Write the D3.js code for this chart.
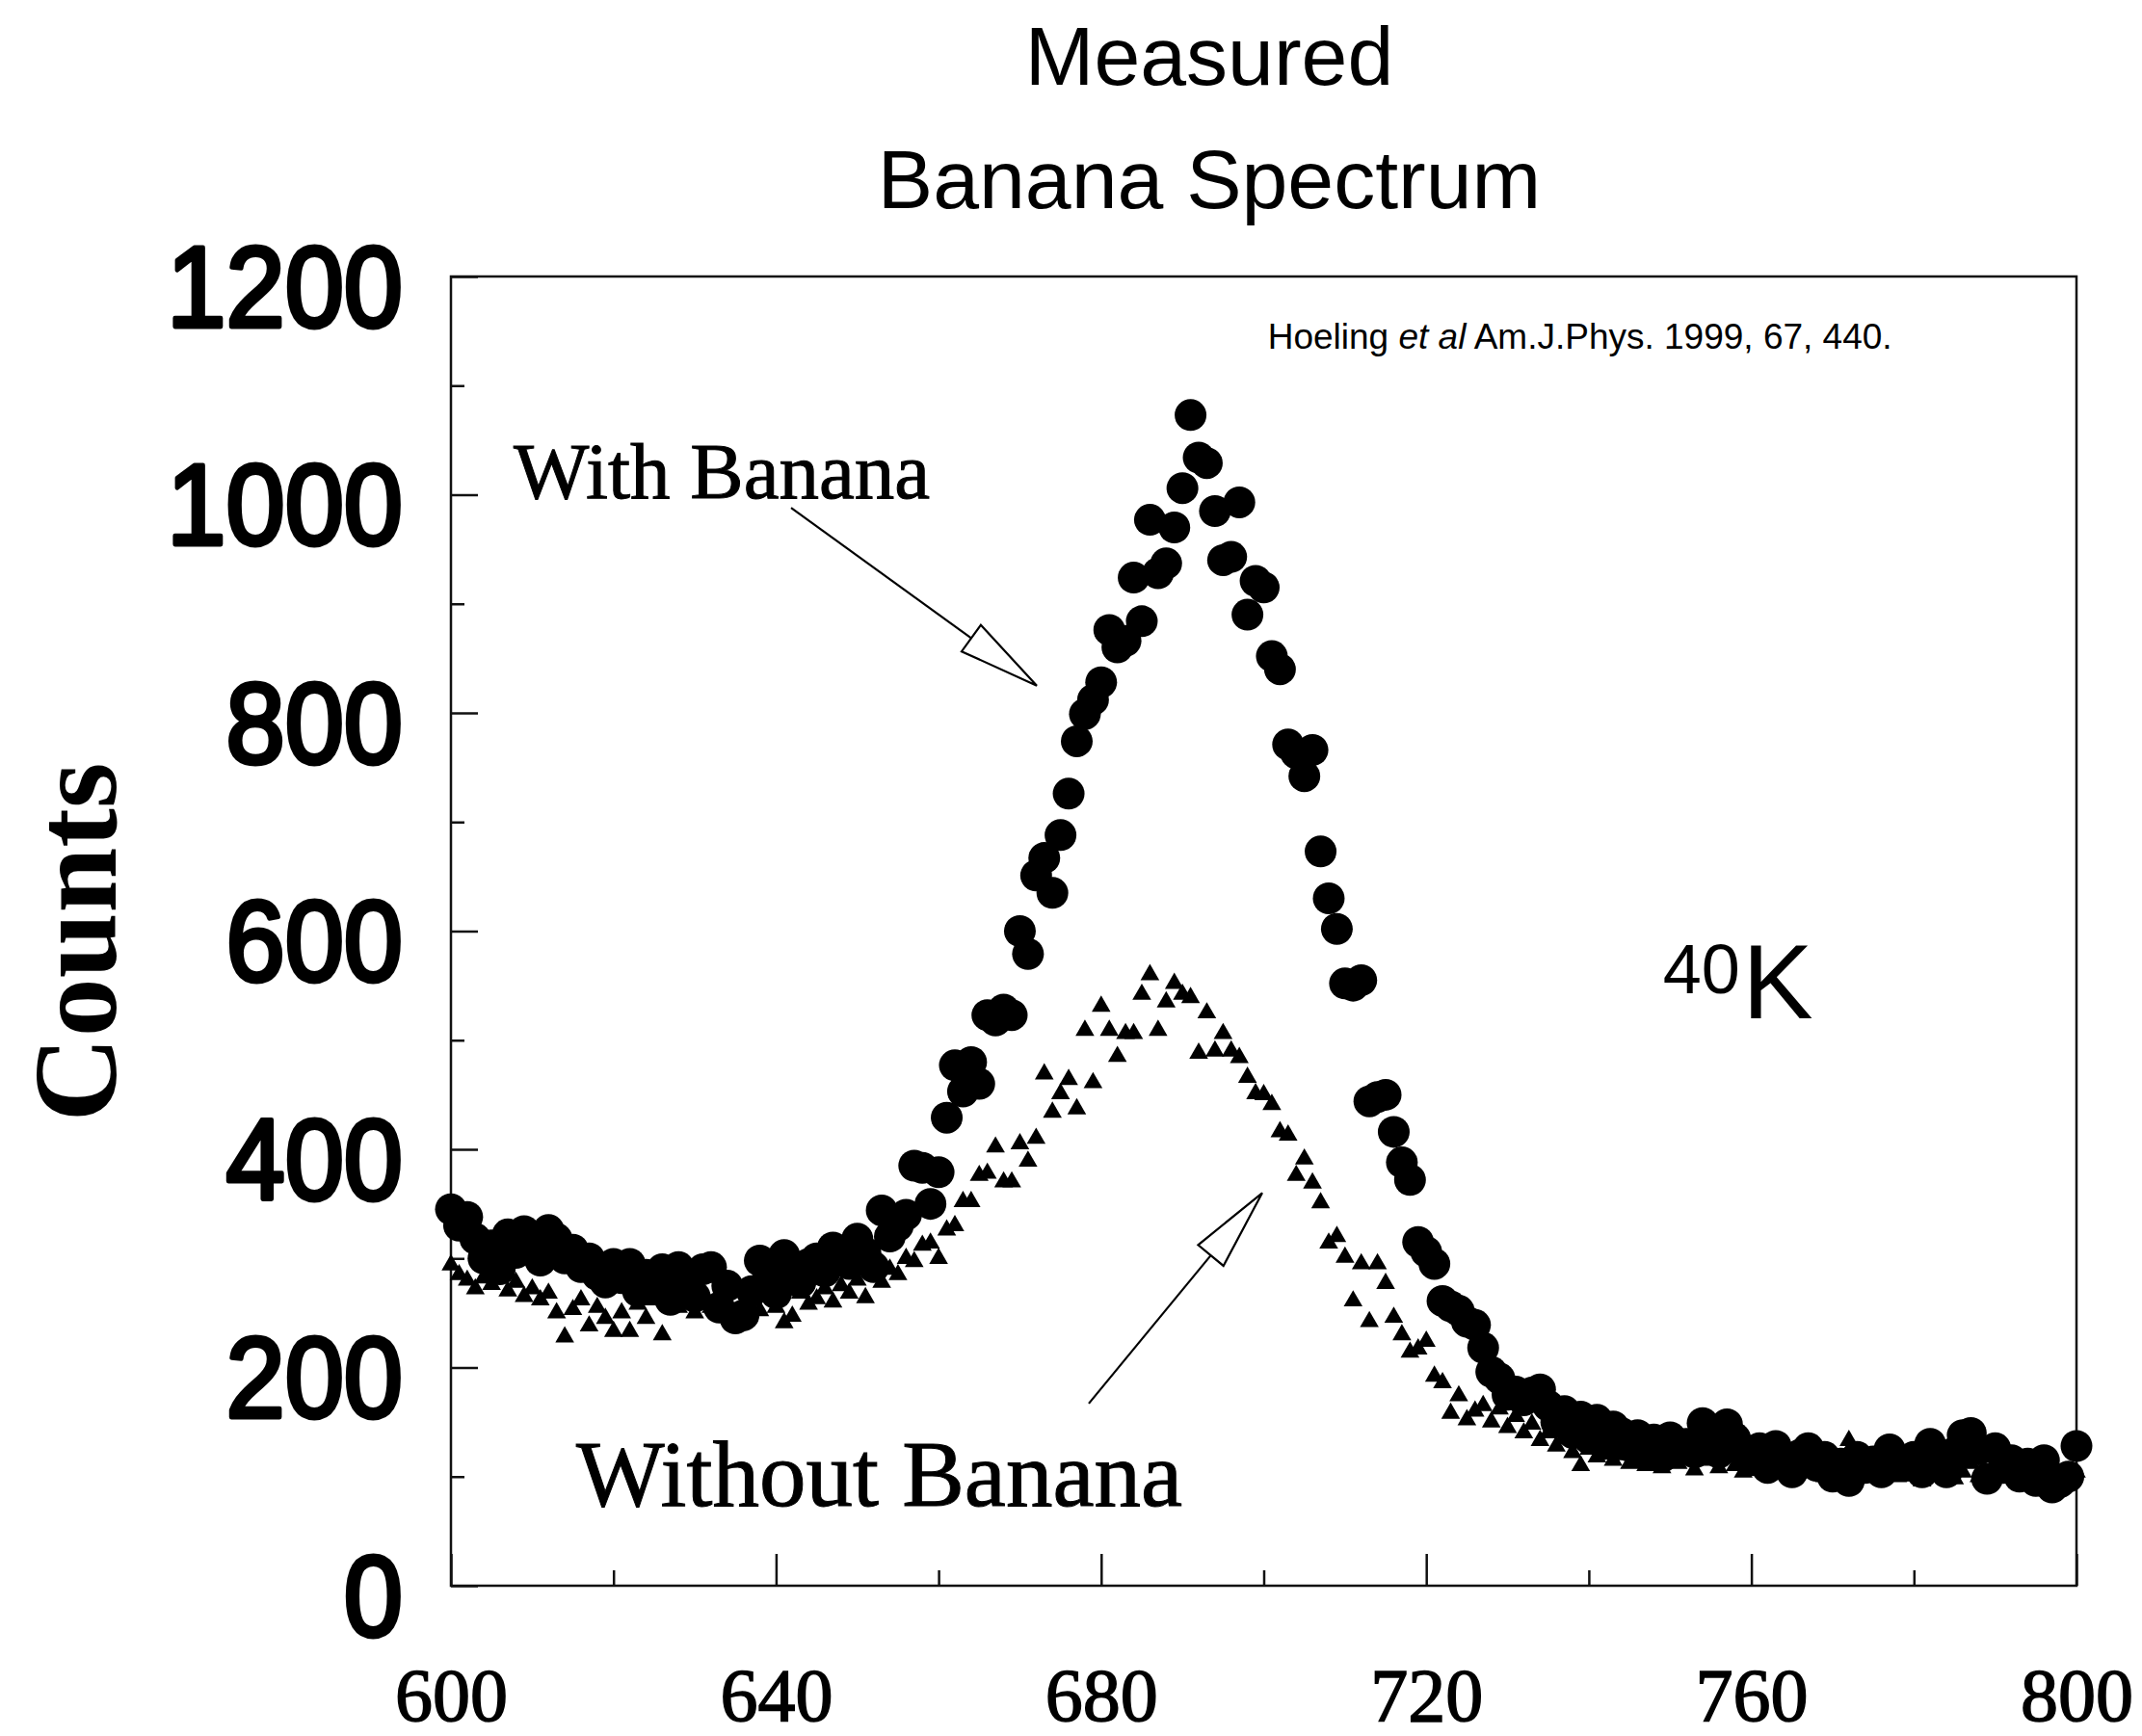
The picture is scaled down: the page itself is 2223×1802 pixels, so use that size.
<!DOCTYPE html>
<html>
<head>
<meta charset="utf-8">
<script src="https://cdn.jsdelivr.net/npm/d3@7/dist/d3.min.js"></script>
<style>
  body { margin: 0; background: #fff; }
  svg { display: block; }
</style>
</head>
<body>
<svg id="chart" width="2223" height="1802"></svg>
<script>
// Channel numbers run 600..800, one count per channel
const channelStart = 600;

// Counts measured with the banana on the detector
const withBanana = [
  345, 330, 338, 318, 300, 312, 290, 322, 305, 325,
  315, 298, 326, 318, 300, 308, 292, 300, 285, 278,
  295, 282, 295, 270, 285, 275, 290, 262, 292, 278,
  265, 290, 292, 255, 275, 245, 248, 270, 298, 282,
  268, 303, 290, 278, 295, 300, 288, 310, 302, 295,
  318, 305, 292, 344, 320, 330, 340, 385, 383, 350,
  379, 429, 477, 453, 480, 460, 523, 518, 528, 523,
  600, 579, 651, 667, 635, 688, 726, 774, 799, 812,
  828, 876, 860, 866, 924, 884, 977, 928, 937, 970,
  1006, 1073, 1034, 1029, 985, 940, 943, 993, 890, 921,
  915, 852, 840, 771, 763, 742, 766, 673, 630, 602,
  552, 550, 555, 444, 448, 450, 416, 388, 372, 315,
  306, 295, 261, 256, 252, 242, 239, 218, 196, 190,
  175, 178, 170, 177, 180, 165, 150, 160, 140, 155,
  135, 152, 130, 146, 140, 128, 138, 120, 134, 118,
  136, 125, 130, 122, 149, 128, 122, 148, 135, 125,
  115, 126, 108, 128, 112, 104, 120, 126, 110, 118,
  100, 112, 96, 118, 108, 114, 104, 125, 112, 110,
  118, 104, 130, 112, 104, 122, 138, 140, 125, 98,
  126, 108, 115, 100, 112, 96, 115, 90, 95, 100,
  128
];

// Background counts, no banana
const withoutBanana = [
  294, 285, 280, 272, 282, 276, 285, 270, 278, 265,
  272, 262, 268, 250, 228, 253, 262, 238, 255, 245,
  233, 250, 233, 258, 245, 262, 230, 270, 255, 262,
  250, 268, 255, 262, 248, 270, 258, 265, 252, 268,
  255, 241, 247, 268, 258, 263, 272, 260, 275, 268,
  280, 264, 285, 278, 290, 285, 300, 297, 312, 314,
  300, 326, 330, 352, 352, 376, 378, 402, 370, 370,
  405, 389, 410, 469, 434, 451, 464, 437, 509, 461,
  531, 509, 485, 506, 506, 542, 560, 509, 535, 552,
  542, 539, 488, 525, 490, 506, 490, 484, 466, 451,
  450, 441, 416, 413, 376, 391, 369, 351, 314, 320,
  301, 261, 295, 242, 295, 277, 246, 230, 214, 217,
  224, 192, 186, 158, 174, 152, 160, 165, 150, 162,
  145, 155, 140, 148, 133, 140, 128, 135, 122, 110,
  125, 118, 128, 115, 120, 112, 124, 110, 118, 108,
  120, 112, 118, 106, 115, 120, 108, 118, 110, 104,
  115, 108, 120, 102, 112, 106, 115, 104, 110, 100,
  112, 106, 133, 104, 110, 100, 112, 106, 100, 110,
  104, 96, 108, 102, 110, 98, 104, 112, 100, 95,
  106, 100, 108, 96, 102, 94, 105, 98, 92, 100,
  104
];

const xTicks = [600, 640, 680, 720, 760, 800];
const xMinorTicks = [620, 660, 700, 740, 780];
const yTicks = [0, 200, 400, 600, 800, 1000, 1200];
const yMinorTicks = [100, 300, 500, 700, 900, 1100];

const titleLines = ["Measured", "Banana Spectrum"];
const yTitle = "Counts";

// Annotation anchors, given in data units (channel, counts)
const labelWith = { text: "With Banana", at: [607.7, 997] };
const labelWithout = { text: "Without Banana", at: [615.4, 73] };
const arrowWith = { from: [641.85, 988], to: [672.08, 825] };
const arrowWithout = { from: [678.48, 167], to: [699.82, 360] };
const citeAt = [700.5, 1134];
const isotopeAt = { mass: [749.1, 543], symbol: [758.9, 520] };

// ---------------------------------------------------------------
const svg = d3.select("#chart");
const plotLeft = 468, plotRight = 2155, plotTop = 287, plotBottom = 1646;

const x = d3.scaleLinear().domain([600, 800]).range([plotLeft, plotRight]);
const y = d3.scaleLinear().domain([0, 1200]).range([plotBottom, plotTop]);

const ink = "#111";
const sans = "'Liberation Sans', Arial, sans-serif";
const serif = "'Liberation Serif', 'Times New Roman', serif";

// Title
svg.append("g")
  .selectAll("text")
  .data(titleLines)
  .join("text")
  .attr("x", 1255)
  .attr("y", (d, i) => 88 + i * 128)
  .attr("text-anchor", "middle")
  .attr("font-family", sans)
  .attr("font-size", 86)
  .attr("fill", "#000")
  .text(d => d);

// Frame
svg.append("rect")
  .attr("x", plotLeft).attr("y", plotTop)
  .attr("width", plotRight - plotLeft).attr("height", plotBottom - plotTop)
  .attr("fill", "none")
  .attr("stroke", ink)
  .attr("stroke-width", 2.5);

// Y axis: inward ticks, labels on the major ones
const yAxis = svg.append("g")
  .attr("transform", `translate(${plotLeft},0)`)
  .call(d3.axisLeft(y).tickValues(yTicks).tickSize(-28).tickPadding(50).tickFormat(d3.format("d")));
yAxis.select(".domain").remove();
yAxis.selectAll("line").attr("stroke", ink).attr("stroke-width", 2.5);
yAxis.selectAll("text")
  .attr("font-family", sans)
  .attr("font-size", 110)
  .attr("fill", "#000")
  .attr("stroke", "#000")
  .attr("stroke-width", 4.5)
  .attr("stroke-linejoin", "round")
  .attr("dy", "0.43em")
  .attr("transform", "scale(1,1.08)");

const yMinor = svg.append("g")
  .attr("transform", `translate(${plotLeft},0)`)
  .call(d3.axisLeft(y).tickValues(yMinorTicks).tickSize(-14).tickFormat(""));
yMinor.select(".domain").remove();
yMinor.selectAll("line").attr("stroke", ink).attr("stroke-width", 2.5);

// X axis
const xAxis = svg.append("g")
  .attr("transform", `translate(0,${plotBottom})`)
  .call(d3.axisBottom(x).tickValues(xTicks).tickSize(-33).tickPadding(85).tickFormat(d3.format("d")));
xAxis.select(".domain").remove();
xAxis.selectAll("line").attr("stroke", ink).attr("stroke-width", 2.5);
xAxis.selectAll("text")
  .attr("font-family", serif)
  .attr("font-size", 78)
  .attr("fill", "#000")
  .attr("stroke", "#000")
  .attr("stroke-width", 1.5);

const xMinor = svg.append("g")
  .attr("transform", `translate(0,${plotBottom})`)
  .call(d3.axisBottom(x).tickValues(xMinorTicks).tickSize(-16).tickFormat(""));
xMinor.select(".domain").remove();
xMinor.selectAll("line").attr("stroke", ink).attr("stroke-width", 2.5);

// Y axis title
svg.append("text")
  .attr("transform", "translate(120,978) rotate(-90)")
  .attr("text-anchor", "middle")
  .attr("font-family", serif)
  .attr("font-weight", "bold")
  .attr("font-size", 122)
  .attr("fill", "#000")
  .text(yTitle);

// Data
const toPoints = arr => arr.map((c, i) => ({ ch: channelStart + i, c }));

svg.append("g")
  .selectAll("path")
  .data(toPoints(withoutBanana))
  .join("path")
  .attr("transform", d => `translate(${x(d.ch)},${y(d.c)})`)
  .attr("d", d3.symbol(d3.symbolTriangle, 165))
  .attr("fill", "#000");

svg.append("g")
  .selectAll("circle")
  .data(toPoints(withBanana))
  .join("circle")
  .attr("cx", d => x(d.ch))
  .attr("cy", d => y(d.c))
  .attr("r", 16.5)
  .attr("fill", "#000");

// Annotations
svg.append("text")
  .attr("x", x(labelWith.at[0])).attr("y", y(labelWith.at[1]))
  .attr("font-family", serif).attr("font-size", 83).attr("fill", "#000")
  .attr("stroke", "#000").attr("stroke-width", 1)
  .text(labelWith.text);
svg.append("text")
  .attr("x", x(labelWithout.at[0])).attr("y", y(labelWithout.at[1]))
  .attr("font-family", serif).attr("font-size", 97).attr("fill", "#000")
  .attr("stroke", "#000").attr("stroke-width", 1)
  .text(labelWithout.text);

function drawArrow(a) {
  const x0 = x(a.from[0]), y0 = y(a.from[1]);
  const x1 = x(a.to[0]), y1 = y(a.to[1]);
  const len = Math.hypot(x1 - x0, y1 - y0);
  const ux = (x1 - x0) / len, uy = (y1 - y0) / len;
  const headLen = 84, halfW = 17;
  const bx = x1 - ux * headLen, by = y1 - uy * headLen;
  const g = svg.append("g").attr("fill", "#fff").attr("stroke", "#000").attr("stroke-width", 2.2);
  g.append("line").attr("x1", x0).attr("y1", y0).attr("x2", bx).attr("y2", by);
  g.append("path")
    .attr("stroke-linejoin", "miter")
    .attr("d", `M${x1},${y1}L${bx - uy * halfW},${by + ux * halfW}L${bx + uy * halfW},${by - ux * halfW}Z`);
}
drawArrow(arrowWith);
drawArrow(arrowWithout);

// Source note
const cite = svg.append("text")
  .attr("x", x(citeAt[0])).attr("y", y(citeAt[1]))
  .attr("font-family", sans)
  .attr("font-size", 37).attr("fill", "#000");
cite.append("tspan").text("Hoeling ");
cite.append("tspan").attr("font-style", "italic").text("et al");
cite.append("tspan").text(" Am.J.Phys. 1999, 67, 440.");

// Isotope label
svg.append("text")
  .attr("x", x(isotopeAt.mass[0])).attr("y", y(isotopeAt.mass[1]))
  .attr("font-family", sans)
  .attr("font-weight", 300)
  .attr("font-size", 72).attr("fill", "#000")
  .text("40");
svg.append("text")
  .attr("x", x(isotopeAt.symbol[0])).attr("y", y(isotopeAt.symbol[1]))
  .attr("font-family", sans)
  .attr("font-weight", 300)
  .attr("font-size", 110).attr("fill", "#000")
  .text("K");
</script>
</body>
</html>
